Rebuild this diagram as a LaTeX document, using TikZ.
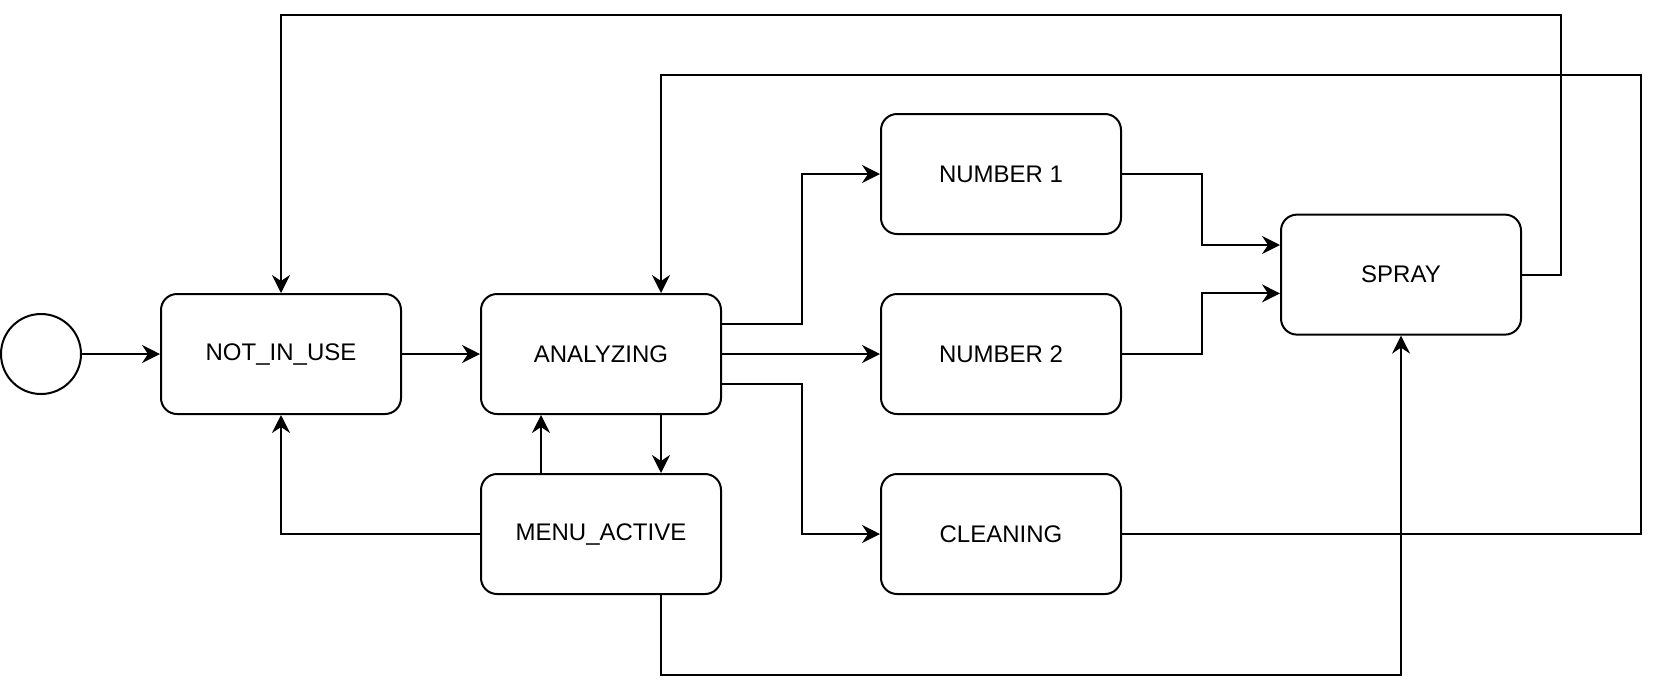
\documentclass[tikz,border=0pt]{standalone}
\usepackage{fontspec}
\setmainfont{Liberation Sans}
\usepackage{tikz}
\usetikzlibrary{arrows.meta}

\begin{document}
\begin{tikzpicture}[x=1pt, y=-1pt,
    state/.style = {draw, line width=1pt, rounded corners=8pt, minimum width=120pt,
                    minimum height=60pt, inner sep=0pt, font=\fontsize{12}{14}\selectfont},
    start/.style = {draw, line width=1pt, circle, minimum size=40pt, inner sep=0pt},
    link/.style  = {line width=1pt, -{Stealth[length=9pt, width=9pt, inset=3pt]}}]
    \useasboundingbox (0,0) rectangle (829,346);
    %画布(canvas)大小:829 x 346
    \node[start] (init) at (20.5,177) {};
    \node[state] (notinuse) at (140.5,177) {NOT\_IN\_USE};
    \node[state] (analyzing) at (300.5,177) {ANALYZING};
    \node[state] (menu) at (300.5,267) {MENU\_ACTIVE};
    \node[state] (num1) at (500.5,87) {NUMBER 1};
    \node[state] (num2) at (500.5,177) {NUMBER 2};
    \node[state] (cleaning) at (500.5,267) {CLEANING};
    \node[state] (spray) at (700.5,137.3) {SPRAY};
    %状态(state)节点,圆角矩形(rounded corners),文字居中
    \coordinate (outer) at (780.5,7.5);
    \coordinate (inner) at (820.5,37.5);
    \coordinate (sprayfoot) at (700.5,337.5);
    %回路的拐点(outer, inner, sprayfoot)
    \draw[link] (init) -- (notinuse);
    \draw[link] (notinuse) -- (analyzing);
    \draw[link] ([yshift=15pt]analyzing.east) -- ++(40,0) |- (num1.west);
    \draw[link] (analyzing) -- (num2);
    \draw[link] ([yshift=-15pt]analyzing.east) -- ++(40,0) |- (cleaning.west);
    %ANALYZING 分支到 NUMBER 1、NUMBER 2、CLEANING
    \draw[link] (num1.east) -- ++(40,0) |- ([yshift=14.8pt]spray.west);
    \draw[link] (num2.east) -- ++(40,0) |- ([yshift=-9.4pt]spray.west);
    %NUMBER 1、NUMBER 2 到 SPRAY
    \draw[link] (spray.east) -| (outer) -| (notinuse.north);
    \draw[link] (cleaning.east) -| (inner) -| ([xshift=30pt]analyzing.north);
    %外侧回路:SPRAY 到 NOT_IN_USE, CLEANING 到 ANALYZING
    \draw[link] ([xshift=30pt]analyzing.south) -- ([xshift=30pt]menu.north);
    \draw[link] ([xshift=-30pt]menu.north) -- ([xshift=-30pt]analyzing.south);
    \draw[link] (menu.west) -| (notinuse.south);
    \draw[link] ([xshift=30pt]menu.south) |- (sprayfoot) -- (spray.south);
    %MENU_ACTIVE 的连线
\end{tikzpicture}
\end{document}
